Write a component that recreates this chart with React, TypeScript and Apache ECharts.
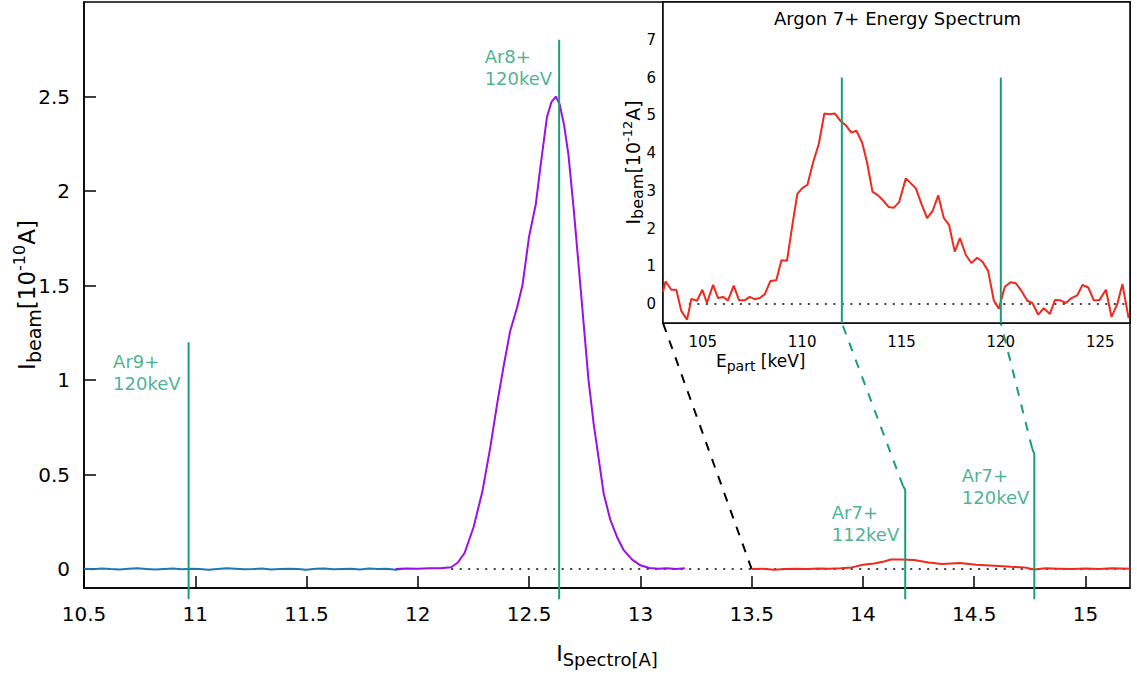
import React, { useEffect, useRef } from 'react';
import * as echarts from 'echarts';

const FONT = 'DejaVu Sans';
const GREEN = '#1b9e77';
const BLUE = '#1f77b4';
const PURPLE = '#9a10e6';
const RED = '#f0281e';

// Main axis ticks
const mainXTicks = [10.5, 11, 11.5, 12, 12.5, 13, 13.5, 14, 14.5, 15];
const mainYTicks = [0, 0.5, 1, 1.5, 2, 2.5];
const insetXTicks = [105, 110, 115, 120, 125];
const insetYTicks = [0, 1, 2, 3, 4, 5, 6, 7];

// Ar9+ region (blue)
const blueX = [10.5, 10.54, 10.58, 10.62, 10.66, 10.7, 10.74, 10.78, 10.82, 10.86, 10.9, 10.94, 10.98, 11.02, 11.06, 11.1, 11.14, 11.18, 11.22, 11.26, 11.3, 11.34, 11.38, 11.42, 11.46, 11.5, 11.54, 11.58, 11.62, 11.66, 11.7, 11.74, 11.78, 11.82, 11.86, 11.9, 11.93];
const blueY = [0.002, -0.001, 0.003, 0.0, -0.002, 0.002, 0.004, 0.001, -0.002, 0.001, 0.003, -0.001, 0.002, 0.0, -0.003, 0.001, 0.004, 0.002, -0.001, 0.0, 0.003, -0.002, 0.001, 0.002, 0.0, -0.003, 0.002, 0.003, -0.001, 0.001, 0.002, -0.002, 0.003, 0.001, 0.002, -0.004, 0.002];

// Ar8+ peak (purple)
const purpleX = [11.9, 11.95, 12.0, 12.05, 12.1, 12.15, 12.18, 12.21, 12.25, 12.29, 12.325, 12.36, 12.385, 12.415, 12.445, 12.47, 12.5, 12.53, 12.55, 12.58, 12.6, 12.62, 12.637, 12.657, 12.677, 12.7, 12.723, 12.745, 12.767, 12.79, 12.812, 12.835, 12.865, 12.895, 12.925, 12.963, 13.0, 13.04, 13.08, 13.12, 13.16, 13.2];
const purpleY = [0.001, 0.003, 0.002, 0.004, 0.004, 0.01, 0.035, 0.085, 0.22, 0.41, 0.64, 0.9, 1.07, 1.26, 1.38, 1.5, 1.76, 1.93, 2.12, 2.39, 2.47, 2.5, 2.46, 2.35, 2.19, 1.91, 1.6, 1.3, 1.0, 0.77, 0.59, 0.4, 0.26, 0.17, 0.1, 0.05, 0.02, 0.006, 0.002, 0.004, 0.001, 0.005];

// Ar7+ region (red) on the main axis
const redX = [13.5, 13.55, 13.6, 13.65, 13.7, 13.75, 13.8, 13.85, 13.9, 13.95, 14.0, 14.05, 14.095, 14.125, 14.17, 14.23, 14.295, 14.355, 14.435, 14.51, 14.59, 14.665, 14.725, 14.77, 14.82, 14.88, 14.94, 15.0, 15.06, 15.12, 15.2];
const redY = [0.0, 0.002, -0.004, 0.0, 0.002, 0.0, 0.003, 0.002, 0.004, 0.009, 0.023, 0.03, 0.04, 0.051, 0.051, 0.048, 0.035, 0.027, 0.032, 0.023, 0.018, 0.012, 0.009, -0.002, 0.004, 0.002, 0.0, 0.003, 0.0, 0.004, 0.002];

// Inset: Argon 7+ energy spectrum
const energyX = [103.0, 103.13, 103.42, 103.67, 103.92, 104.21, 104.43, 104.71, 104.98, 105.21, 105.52, 105.77, 106.02, 106.27, 106.56, 106.83, 107.11, 107.36, 107.61, 107.87, 108.12, 108.4, 108.7, 108.96, 109.24, 109.51, 109.76, 110.01, 110.27, 110.55, 110.84, 111.12, 111.39, 111.64, 111.93, 112.19, 112.48, 112.73, 113.02, 113.27, 113.54, 113.82, 114.07, 114.36, 114.61, 114.88, 115.22, 115.45, 115.72, 116.0, 116.29, 116.56, 116.85, 117.13, 117.4, 117.68, 117.94, 118.24, 118.52, 118.81, 119.08, 119.36, 119.65, 119.9, 120.2, 120.49, 120.76, 121.04, 121.33, 121.59, 121.88, 122.16, 122.47, 122.72, 123.0, 123.27, 123.56, 123.84, 124.11, 124.4, 124.68, 124.95, 125.29, 125.57, 125.86, 126.12, 126.43];
const energyY = [0.33, 0.6, 0.38, 0.38, -0.18, -0.41, 0.14, 0.09, 0.38, 0.03, 0.51, 0.16, 0.19, 0.1, 0.49, 0.1, 0.1, 0.19, 0.13, 0.16, 0.26, 0.61, 0.63, 1.16, 1.15, 2.09, 2.92, 3.07, 3.16, 3.75, 4.24, 5.05, 5.03, 5.05, 4.85, 4.74, 4.54, 4.59, 4.28, 3.75, 2.98, 2.88, 2.75, 2.57, 2.55, 2.7, 3.33, 3.21, 3.07, 2.66, 2.28, 2.46, 2.88, 2.28, 2.09, 1.39, 1.75, 1.3, 1.09, 1.23, 1.12, 0.88, 0.09, -0.12, 0.46, 0.58, 0.55, 0.35, 0.09, 0.03, -0.28, -0.11, -0.26, 0.11, 0.1, 0.03, 0.16, 0.23, 0.51, 0.44, 0.1, 0.1, 0.38, -0.34, 0.0, 0.53, -0.37];

// Marker lines (position in I_Spectro, top value)
const markerNames = ['Ar9+\n120keV', 'Ar8+\n120keV', 'Ar7+\n112keV', 'Ar7+\n120keV'];
const markerX = [10.97, 12.635, 14.19, 14.77];
const markerTop = [1.2, 2.8, 0.42, 0.61];
const markerKinkX = [null, null, 14.18, 14.76];
const markerKinkY = [null, null, 0.44, 0.64];
const markerBottom = -0.16;
const insetMarkers = [112, 120];
const insetMarkerTop = 6;

const zip = (xs: number[], ys: number[]) => xs.map((x, i) => [x, ys[i]]);

export default function App() {
  const ref = useRef<HTMLDivElement>(null);
  useEffect(() => {
    if (!ref.current) return;
    const chart = echarts.init(ref.current, null, { renderer: 'svg' });

    const axisCommon = {
      type: 'value' as const,
      splitLine: { show: false },
      nameMoveOverlap: false,
      axisLine: { show: true, onZero: false, lineStyle: { color: '#000', width: 1.5 } },
    };

    const greenMainSeries = markerX.map((x, i) => {
      const d: number[][] = [[x, markerBottom], [x, markerTop[i]]];
      if (markerKinkX[i] != null) d.push([markerKinkX[i] as number, markerKinkY[i] as number]);
      return {
        type: 'line', xAxisIndex: 0, yAxisIndex: 0, data: d, symbol: 'none', clip: false,
        lineStyle: { color: GREEN, width: 2 }, z: 4, silent: true,
      };
    });

    const labelOffsets = [[-75, 9], [-74, 6], [-73, 12], [-72, 11]];

    const option: any = {
      animation: false,
      backgroundColor: '#fff',
      textStyle: { fontFamily: FONT },
      grid: [
        { left: 84, top: 2, width: 1046, height: 586, show: true, borderColor: '#000', borderWidth: 1.5, backgroundColor: 'transparent', containLabel: false, outerBoundsMode: 'none' },
        { left: 663, top: 2, width: 467, height: 321, show: true, borderColor: '#000', borderWidth: 1.5, backgroundColor: '#fff', containLabel: false, outerBoundsMode: 'none', z: 3 },
      ],
      xAxis: [
        {
          ...axisCommon, gridIndex: 0, min: 10.5, max: 15.2,
          axisTick: { show: true, inside: true, length: 12, customValues: mainXTicks, lineStyle: { color: '#000', width: 1.5 } },
          axisLabel: { customValues: mainXTicks, fontSize: 20, color: '#000', margin: 16, fontFamily: FONT },
          name: '{a|I}{s|Spectro[A]}', nameLocation: 'middle', nameGap: 50,
          nameTextStyle: {
            rich: {
              a: { fontSize: 22, lineHeight: 30, color: '#000', fontFamily: FONT },
              s: { fontSize: 18, lineHeight: 16, verticalAlign: 'bottom', color: '#000', fontFamily: FONT },
            },
          },
        },
        {
          ...axisCommon, gridIndex: 1, min: 103, max: 126.5,
          axisTick: { show: true, inside: true, length: 11, customValues: insetXTicks, lineStyle: { color: '#000', width: 1.5 } },
          axisLabel: { customValues: insetXTicks, fontSize: 15, color: '#000', margin: 11, fontFamily: FONT },
        },
      ],
      yAxis: [
        {
          ...axisCommon, gridIndex: 0, min: -0.1, max: 3.0,
          axisTick: { show: true, inside: true, length: 12, customValues: mainYTicks, lineStyle: { color: '#000', width: 1.5 } },
          axisLabel: { customValues: mainYTicks, fontSize: 20, color: '#000', margin: 14, fontFamily: FONT },
          name: '{a|I}{s|beam}{a|[10}{p|-10}{a|A]}', nameLocation: 'middle', nameGap: 41,
          nameTextStyle: {
            rich: {
              a: { fontSize: 23, lineHeight: 32, color: '#000', fontFamily: FONT },
              s: { fontSize: 19, lineHeight: 17, verticalAlign: 'bottom', color: '#000', fontFamily: FONT },
              p: { fontSize: 16, lineHeight: 17, verticalAlign: 'top', color: '#000', fontFamily: FONT },
            },
          },
        },
        {
          ...axisCommon, gridIndex: 1, min: -0.5, max: 8,
          axisTick: { show: true, inside: true, length: 11, customValues: insetYTicks, lineStyle: { color: '#000', width: 1.5 } },
          axisLabel: { customValues: insetYTicks, fontSize: 15, color: '#000', margin: 7, fontFamily: FONT },
          name: '{a|I}{s|beam}{a|[10}{p|-12}{a|A]}', nameLocation: 'middle', nameGap: 18,
          nameTextStyle: {
            rich: {
              a: { fontSize: 19, lineHeight: 24, color: '#000', fontFamily: FONT },
              s: { fontSize: 16, lineHeight: 13, verticalAlign: 'bottom', color: '#000', fontFamily: FONT },
              p: { fontSize: 13, lineHeight: 13, verticalAlign: 'top', color: '#000', fontFamily: FONT },
            },
          },
        },
      ],
      series: [
        {
          type: 'line', xAxisIndex: 0, yAxisIndex: 0, data: [[12.15, 0], [15.2, 0]], symbol: 'none',
          lineStyle: { color: '#000', width: 1.5, type: [2, 6.5] }, z: 1, silent: true,
        },
        { type: 'line', xAxisIndex: 0, yAxisIndex: 0, data: zip(blueX, blueY), symbol: 'none', lineStyle: { color: BLUE, width: 2 }, z: 2 },
        { type: 'line', xAxisIndex: 0, yAxisIndex: 0, data: zip(purpleX, purpleY), symbol: 'none', lineStyle: { color: PURPLE, width: 2 }, z: 2 },
        { type: 'line', xAxisIndex: 0, yAxisIndex: 0, data: zip(redX, redY), symbol: 'none', lineStyle: { color: RED, width: 2 }, z: 2 },
        ...greenMainSeries,
        {
          type: 'scatter', xAxisIndex: 0, yAxisIndex: 0, symbolSize: 1, itemStyle: { color: 'rgba(0,0,0,0)' }, z: 5, silent: true,
          data: markerNames.map((n, i) => ({
            name: n,
            value: [markerX[i], markerTop[i]],
            label: { position: labelOffsets[i] },
          })),
          label: {
            show: true, formatter: '{b}', color: GREEN, fontSize: 18, lineHeight: 22,
            align: 'left', verticalAlign: 'top', fontFamily: FONT,
          },
        },
        {
          type: 'line', xAxisIndex: 1, yAxisIndex: 1, data: [[104.3, 0], [126.5, 0]], symbol: 'none',
          lineStyle: { color: '#000', width: 1.5, type: [2, 6.5] }, z: 6, silent: true,
        },
        { type: 'line', xAxisIndex: 1, yAxisIndex: 1, data: zip(energyX, energyY), symbol: 'none', lineStyle: { color: RED, width: 2 }, z: 7 },
        ...insetMarkers.map((m) => ({
          type: 'line', xAxisIndex: 1, yAxisIndex: 1, data: [[m, -0.5], [m, insetMarkerTop]], symbol: 'none',
          lineStyle: { color: GREEN, width: 2 }, z: 8, silent: true,
        })),
      ],
    };

    chart.setOption(option);

    const px = (g: number, v: number[]) => chart.convertToPixel({ gridIndex: g } as any, v) as number[];
    const connectors = [
      { from: px(0, [13.5, 0]), to: px(1, [103, -0.5]), color: '#000' },
      { from: px(0, [markerKinkX[2] as number, markerKinkY[2] as number]), to: px(1, [insetMarkers[0], -0.5]), color: GREEN },
      { from: px(0, [markerKinkX[3] as number, markerKinkY[3] as number]), to: px(1, [insetMarkers[1], -0.5]), color: GREEN },
    ];
    const insetLeft = px(1, [103, 8]);
    const insetRight = px(1, [126.5, 8]);
    const insetBottom = px(1, [103, -0.5]);

    chart.setOption({
      graphic: [
        ...connectors.map((c) => ({
          type: 'line', silent: true, z: 2,
          shape: { x1: c.from[0], y1: c.from[1], x2: c.to[0], y2: c.to[1] },
          style: { stroke: c.color, lineWidth: 2, lineDash: [9, 9] },
        })),
        {
          type: 'text', silent: true, z: 20,
          x: (insetLeft[0] + insetRight[0]) / 2 + 1, y: insetLeft[1] + 16,
          style: { text: 'Argon 7+ Energy Spectrum', fill: '#000', font: `18px "${FONT}"`, align: 'center', verticalAlign: 'middle' },
        },
        {
          type: 'text', silent: true, z: 20,
          x: insetBottom[0] + 53, y: insetBottom[1] + 38,
          style: {
            text: '{a|E}{s|part}{a| [keV]}', align: 'left', verticalAlign: 'middle',
            rich: {
              a: { fontSize: 17, lineHeight: 24, fill: '#000', fontFamily: FONT },
              s: { fontSize: 14, lineHeight: 13, verticalAlign: 'bottom', fill: '#000', fontFamily: FONT },
            },
          },
        },
      ],
    });

    return () => chart.dispose();
  }, []);

  return <div ref={ref} style={{ position: 'absolute', left: 0, top: 0, width: 1137, height: 677 }} />;
}
